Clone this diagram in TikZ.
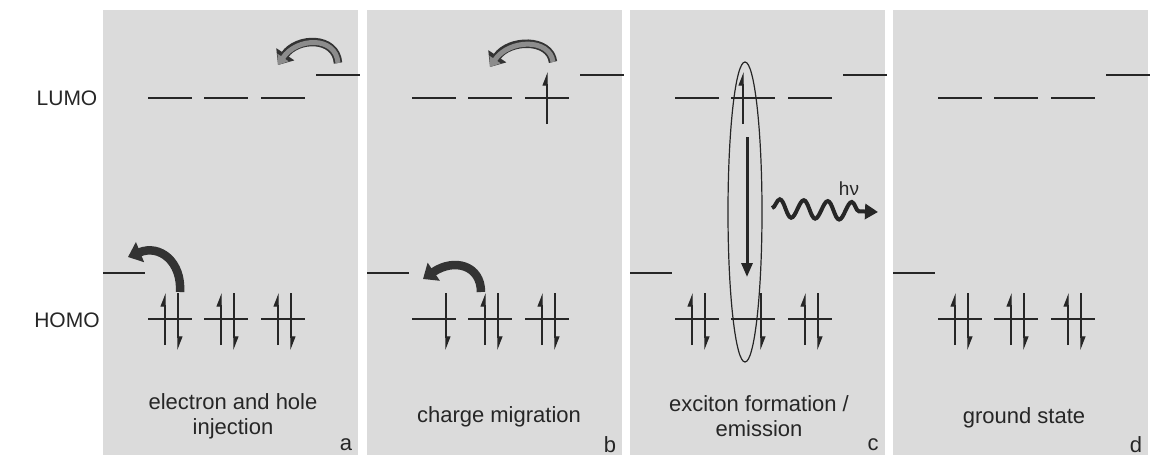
\documentclass[tikz,border=0pt]{standalone}
\usepackage{fontspec}
\setmainfont{Liberation Sans}
\usetikzlibrary{arrows.meta, calc, shapes.geometric, decorations.pathmorphing}
\tikzset{
  panel/.style     = {fill=black!14, draw=none},
  level/.style     = {draw=black!85, line width=2.4pt},
  electrode/.style = {draw=black!85, line width=2pt},
  spin/.style      = {draw=black!85, line width=1.3pt,
                      -{Triangle[left, length=12pt, width=9pt]}},
  hopdark/.style   = {draw=black!80, line width=8.5pt,
                      -{Triangle[length=13pt, width=21pt]}},
  hopgray/.style   = {preaction={hopdark}, draw=black!45, line width=5pt,
                      -{Triangle[length=9pt, width=13pt]}},
  recomb/.style    = {draw=black!85, line width=3pt,
                      -{Triangle[length=14pt, width=11pt]}},
  photon/.style    = {draw=black!85, line width=4pt, decorate,
                      decoration={snake, amplitude=9pt, segment length=24pt,
                                  post length=10pt},
                      -{Triangle[length=13pt, width=15pt]}},
  exciton/.style   = {ellipse, draw=black!85, line width=1.2pt,
                      minimum width=34pt, minimum height=300pt, inner sep=0pt},
  lbl/.style       = {font=\fontsize{21}{24}\selectfont, text=black!85},
  caption/.style   = {font=\fontsize{22}{25}\selectfont, text=black!85,
                      align=center},
}
\newcommand\upspin[2]{\draw[spin] ($(#1)+(#2,26)$) -- ++(0,-52);}
\newcommand\dnspin[2]{\draw[spin] ($(#1)+(#2,-26)$) -- ++(0,57);}
\newcommand\pairspin[1]{\upspin{#1}{-5}\dnspin{#1}{8}}

\begin{document}
\begin{tikzpicture}[x=1pt, y=-1pt]
  \useasboundingbox (0,0) rectangle (1152,456);
  % panels, electrodes and levels
  \foreach \off/\p in {0/a, 264/b, 527/c, 790/d} {
    \fill[panel] (\off+103,10) rectangle (\off+358,455);
    \coordinate (cat\p) at (\off+338,75);
    \coordinate (an\p) at (\off+124,273);
    \draw[electrode] ($(cat\p)+(-22,0)$) -- ++(44,0);
    \draw[electrode] ($(an\p)+(-21,0)$) -- ++(42,0);
    \foreach \cx [count=\i] in {170, 226, 283} {
      \coordinate (L\p\i) at (\off+\cx,98);
      \coordinate (H\p\i) at (\off+\cx,319);
      \draw[level] ($(L\p\i)+(-22,0)$) -- ++(44,0);
      \draw[level] ($(H\p\i)+(-22,0)$) -- ++(44,0);
    }
    \node[caption] (tag\p) at (\off+346,445) {\p};
  }
  % spins
  \foreach \n in {Ha1, Ha2, Ha3, Hb2, Hb3, Hc1, Hc3, Hd1, Hd2, Hd3}
    {\pairspin{\n}}
  \dnspin{Hb1}{12}
  \upspin{Lb3}{0}
  \upspin{Lc2}{-10}
  \dnspin{Hc2}{8}

  % injection and hopping
  \draw[hopgray] ($(cata)+(0,-12)$) .. controls +(-2,-27) and +(19,-28)
    .. ($(La3)+(-5,-33)$);
  \draw[hopdark] ($(Ha1)+(10,-27)$) .. controls +(2,-30) and +(32,-13)
    .. ($(ana)+(4,-16)$);
  \draw[hopgray] ($(Lb3)+(6,-36)$) .. controls +(-3,-24) and +(19,-28)
    .. ($(Lb2)+(0,-31)$);
  \draw[hopdark] ($(Hb2)+(-9,-27)$) .. controls +(0,-27) and +(31,-21)
    .. ($(Hb1)+(-11,-40)$);

  % exciton and emission
  \node[exciton] (exc) at (745,212) {};
  \draw[recomb] ($(exc.center)+(2,-75)$) -- ($(exc.center)+(2,65)$);
  \coordinate (hv0) at (772,208);
  \coordinate (hv1) at (878,212);
  \draw[photon] (hv0) -- (hv1);
  \node[font=\fontsize{19}{21}\selectfont, text=black!85] (hv)
    at (849,189) {hν};

  % texts
  \node[lbl] (lumo) at (67,98) {LUMO};
  \node[lbl] (homo) at (67,320) {HOMO};
  \node[caption] (capa) at (233,416) {electron and hole\\injection};
  \node[caption] (capb) at (499,417) {charge migration};
  \node[caption] (capc) at (759,416) {exciton formation /\\emission};
  \node[caption] (capd) at (1024,418) {ground state};
\end{tikzpicture}
\end{document}
